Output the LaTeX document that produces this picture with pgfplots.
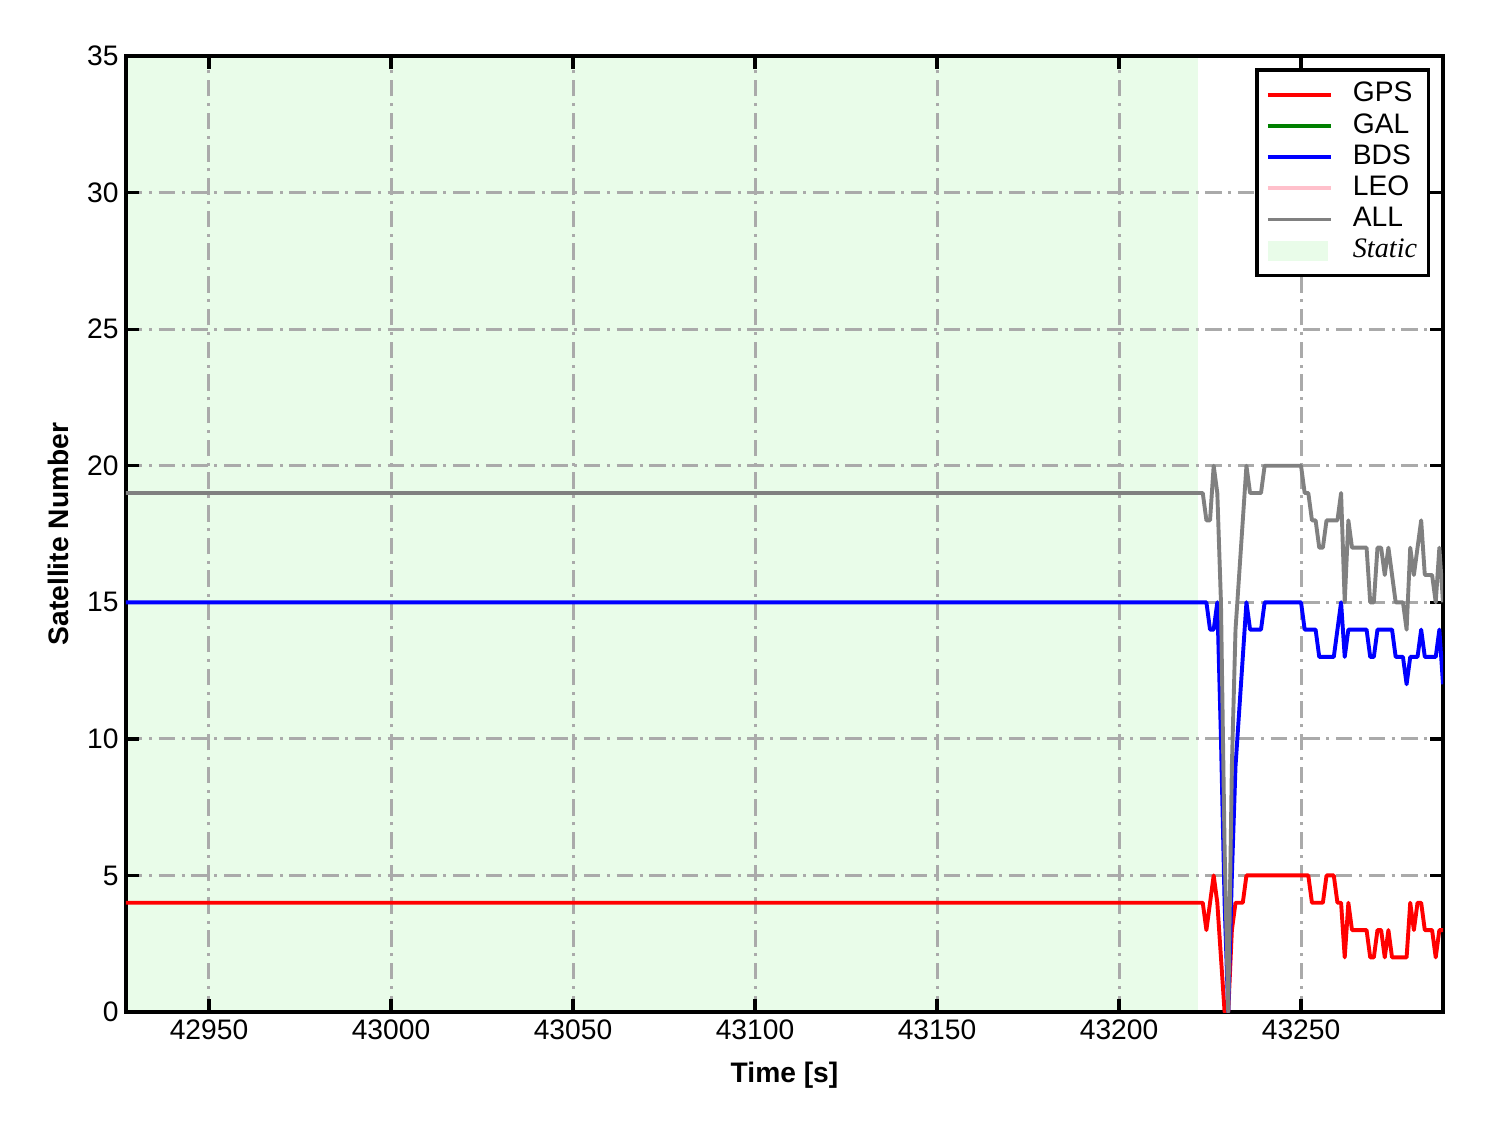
\documentclass[border=0pt]{standalone}
\usepackage{fontspec}
\setmainfont{Liberation Sans}
\newfontfamily\seriffont{Liberation Serif}
\usepackage{pgfplots}
\pgfplotsset{compat=1.18}

\definecolor{gridgray}{RGB}{170,170,170}
\definecolor{staticgreen}{RGB}{233,252,233}
\definecolor{galgreen}{RGB}{0,128,0}
\definecolor{leopink}{RGB}{255,192,203}
\definecolor{allgray}{RGB}{128,128,128}

\newcommand{\fs}{\fontsize{9.4}{11}\selectfont}

\begin{document}
\begin{tikzpicture}
\begin{axis}[
  set layers,
  scale only axis, width=439pt, height=318.67pt,
  xmin=42927.2, xmax=43289, ymin=0, ymax=35,
  xtick={42950,43000,...,43250}, ytick={0,5,...,35},
  scaled x ticks=false,
  tick pos=both, tick align=inside, major tick length=4.3pt,
  tick style={black, line width=1.1pt},
  axis line style={line width=1.1pt},
  grid=major,
  grid style={gridgray, line width=1pt, dash pattern=on 5.5pt off 2.2pt on 1pt off 2.2pt},
  /pgf/number format/assume math mode=true,
  /pgf/number format/1000 sep={},
  ticklabel style={font=\fs, inner sep=0pt},
  x tick label style={yshift=-2.3pt},
  y tick label style={xshift=-2.3pt},
  xlabel={Time [s]}, ylabel={Satellite Number},
  label style={font=\fs\bfseries},
  xlabel style={at={(axis description cs:0.5,-0.0659)}, anchor=center},
  ylabel style={at={(axis description cs:-0.0516,0.5)}, anchor=center},
  legend style={at={(axis description cs:0.990,0.987)}, anchor=north east,
    draw=black, line width=1.1pt, fill=white, inner xsep=3pt, inner ysep=3pt,
    row sep=0pt, column sep=6.3pt, font=\fs,
    nodes={inner sep=0.4pt, text height=7.2pt, text depth=2.4pt, text width=21.7pt, align=left}},
  legend cell align=left,
  legend image code/.code={\draw[#1, line width=1.3pt] (0pt,0pt) -- (21pt,0pt);},
]
\coordinate (sw) at (rel axis cs:0,0);
\coordinate (ne) at (rel axis cs:1,1);

% static period
\addplot[on layer=axis background, draw=none, fill=staticgreen, forget plot]
  coordinates {(42927.2,35) (43221.6,35)} \closedcycle;

\addplot[red, line width=1.3pt, line join=round] table {
x y
42927 4
43223 4
43224 3
43225 4
43226 5
43227 4
43228 2
43229 0
43230 0
43231 3
43232 4
43233 4
43234 4
43235 5
43252 5
43253 4
43256 4
43257 5
43259 5
43260 4
43261 4
43262 2
43263 4
43264 3
43268 3
43269 2
43270 2
43271 3
43272 3
43273 2
43274 3
43275 2
43279 2
43280 4
43281 3
43282 4
43283 4
43284 3
43286 3
43287 2
43288 3
43289 3
};
\addlegendentry{GPS}
\addlegendimage{galgreen}
\addlegendentry{GAL}

\addplot[blue, line width=1.3pt, line join=round] table {
x y
42927 15
43224 15
43225 14
43226 14
43227 15
43228 10
43229 4
43230 0
43231 5
43232 9
43233 11
43234 13
43235 15
43236 14
43239 14
43240 15
43250 15
43251 14
43254 14
43255 13
43259 13
43260 14
43261 15
43262 13
43263 14
43268 14
43269 13
43270 13
43271 14
43275 14
43276 13
43278 13
43279 12
43280 13
43282 13
43283 14
43284 13
43287 13
43288 14
43289 12
};
\addlegendentry{BDS}
\addlegendimage{leopink}
\addlegendentry{LEO}

\addplot[allgray, line width=1.3pt, line join=round] table {
x y
42927 19
43223 19
43224 18
43225 18
43226 20
43227 19
43228 15
43229 6
43230 0
43231 9
43232 14
43233 16
43234 18
43235 20
43236 19
43239 19
43240 20
43250 20
43251 19
43252 19
43253 18
43254 18
43255 17
43256 17
43257 18
43260 18
43261 19
43262 15
43263 18
43264 17
43268 17
43269 15
43270 15
43271 17
43272 17
43273 16
43274 17
43275 16
43276 15
43278 15
43279 14
43280 17
43281 16
43282 17
43283 18
43284 16
43286 16
43287 15
43288 17
43289 15
};
\addlegendentry{ALL}

\addlegendimage{legend image code/.code={\fill[draw=none, fill=staticgreen] (0pt,-3.3pt) rectangle (20pt,3.3pt);}}
\addlegendentry{{\seriffont\itshape Static}}
\end{axis}
\pgfresetboundingbox
\path ([shift={(-42pt,-40.33pt)}]sw) rectangle ([shift={(15pt,18.67pt)}]ne);
\end{tikzpicture}
\end{document}
